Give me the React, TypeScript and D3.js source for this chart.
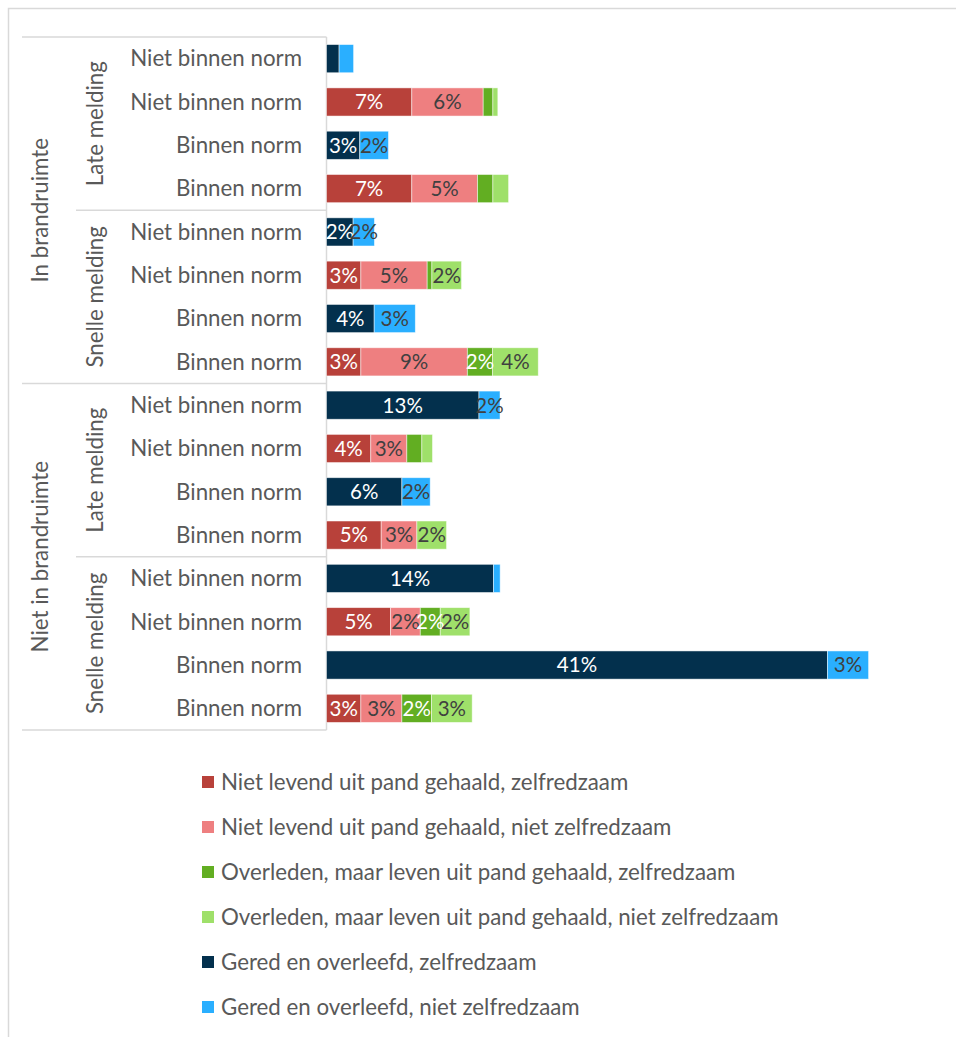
import React from "react";
import * as d3 from "d3";

// ---------- data ----------
const rowLabels = [
  "Niet binnen norm", "Niet binnen norm", "Binnen norm", "Binnen norm",
  "Niet binnen norm", "Niet binnen norm", "Binnen norm", "Binnen norm",
  "Niet binnen norm", "Niet binnen norm", "Binnen norm", "Binnen norm",
  "Niet binnen norm", "Niet binnen norm", "Binnen norm", "Binnen norm",
];
const meldingGroups = ["Late melding", "Snelle melding", "Late melding", "Snelle melding"];
const ruimteGroups = ["In brandruimte", "Niet in brandruimte"];

const seriesNames = [
  "Niet levend uit pand gehaald, zelfredzaam",
  "Niet levend uit pand gehaald, niet zelfredzaam",
  "Overleden, maar leven uit pand gehaald, zelfredzaam",
  "Overleden, maar leven uit pand gehaald, niet zelfredzaam",
  "Gered en overleefd, zelfredzaam",
  "Gered en overleefd, niet zelfredzaam",
];
const seriesColors = ["#B8413A", "#EE7F80", "#62AE22", "#9FE06A", "#03304D", "#2AAFFF"];
const labelColors = ["#ffffff", "#404040", "#ffffff", "#404040", "#ffffff", "#404040"];

const nietLevendZelf = [0, 7.05, 0, 7.05, 0, 2.84, 0, 2.84, 0, 3.66, 0, 4.52, 0, 5.3, 0, 2.84];
const nietLevendNietZelf = [0, 5.9, 0, 5.43, 0, 5.48, 0, 8.8, 0, 2.98, 0, 2.95, 0, 2.45, 0, 3.39];
const overledenZelf = [0, 0.8, 0, 1.27, 0, 0.39, 0, 2.09, 0, 1.24, 0, 0, 0, 1.65, 0, 2.45];
const overledenNietZelf = [0, 0.41, 0, 1.3, 0, 2.45, 0, 3.77, 0, 0.88, 0, 2.45, 0, 2.45, 0, 3.36];
const geredZelf = [1.04, 0, 2.75, 0, 2.2, 0, 3.94, 0, 12.6, 0, 6.23, 0, 13.8, 0, 41.4, 0];
const geredNietZelf = [1.2, 0, 2.37, 0, 1.76, 0, 3.4, 0, 1.74, 0, 2.34, 0, 0.55, 0, 3.4, 0];

const seriesValues = [nietLevendZelf, nietLevendNietZelf, overledenZelf, overledenNietZelf, geredZelf, geredNietZelf];

// ---------- layout ----------
const W = 956;
const H = 1037;
const axisX = 326.5;
const plotTop = 37;
const plotBottom = 730;
const FONT = "Lato, 'Open Sans', sans-serif";
const TEXT = "#595959";
const GRID = "#D9D9D9";
const FS = 22.3;

export default function App() {
  const x = d3.scaleLinear().domain([0, 45]).range([axisX, axisX + 544.5]);
  const idx = d3.range(rowLabels.length);
  const y = d3.scaleBand<number>().domain(idx).range([plotTop, plotBottom]).paddingInner(0.35).paddingOuter(0.175);
  const step = y.step();

  const table = idx.map((i) => {
    const o: any = { i };
    seriesValues.forEach((vals, s) => (o["s" + s] = vals[i]));
    return o;
  });
  const stack = d3.stack<any>().keys(seriesValues.map((_, s) => "s" + s))(table);

  const rowY = (i: number) => plotTop + step * i;

  return (
    <svg width={W} height={H} style={{ position: "absolute", left: 0, top: 0, background: "#fff" }} fontFamily={FONT}>
      {/* frame */}
      <rect x={8.5} y={8.5} width={W + 20} height={H + 20} fill="#fff" stroke={GRID} strokeWidth={1.5} />

      {/* category structure lines */}
      {[0, 4, 8, 12, 16].map((r) => {
        const yy = rowY(r);
        const x1 = r % 8 === 0 ? 22 : 76;
        return <line key={"h" + r} x1={x1} x2={axisX} y1={yy} y2={yy} stroke={GRID} strokeWidth={1.5} />;
      })}
      <line x1={axisX} x2={axisX} y1={plotTop} y2={plotBottom} stroke={GRID} strokeWidth={1.5} />

      {/* row labels */}
      {idx.map((i) => (
        <text key={"rl" + i} x={302} y={y(i)! + y.bandwidth() / 2} dy="0.35em" textAnchor="end" fontSize={FS} fill={TEXT}>
          {rowLabels[i]}
        </text>
      ))}

      {/* melding groups */}
      {meldingGroups.map((g, k) => {
        const cy = (rowY(k * 4) + rowY(k * 4 + 4)) / 2;
        return (
          <text key={"mg" + k} transform={`translate(95,${cy}) rotate(-90)`} dy="0.35em" textAnchor="middle" fontSize={FS} fill={TEXT}>
            {g}
          </text>
        );
      })}
      {ruimteGroups.map((g, k) => {
        const cy = (rowY(k * 8) + rowY(k * 8 + 8)) / 2;
        return (
          <text key={"rg" + k} transform={`translate(40,${cy}) rotate(-90)`} dy="0.35em" textAnchor="middle" fontSize={FS} fill={TEXT}>
            {g}
          </text>
        );
      })}

      {/* bars */}
      {stack.map((layer, s) => (
        <g key={"s" + s}>
          {layer.map((d, i) => {
            const w = x(d[1]) - x(d[0]);
            if (w <= 0) return null;
            return (
              <rect key={i} x={x(d[0])} y={y(i)!} width={w} height={y.bandwidth()} fill={seriesColors[s]} stroke="#ffffff" strokeOpacity={0.6} strokeWidth={0.8} />
            );
          })}
        </g>
      ))}

      {/* data labels */}
      {stack.map((layer, s) => (
        <g key={"l" + s}>
          {layer.map((d, i) => {
            const v = d[1] - d[0];
            if (v < 1.5) return null;
            return (
              <text key={i} x={(x(d[0]) + x(d[1])) / 2} y={y(i)! + y.bandwidth() / 2} dy="0.36em" textAnchor="middle" fontSize={20.5} fill={labelColors[s]}>
                {Math.round(v) + "%"}
              </text>
            );
          })}
        </g>
      ))}

      {/* legend */}
      {seriesNames.map((n, s) => {
        const cy = 782 + s * 45;
        return (
          <g key={"lg" + s}>
            <rect x={202} y={cy - 6} width={12} height={12} fill={seriesColors[s]} />
            <text x={221} y={cy} dy="0.35em" fontSize={FS} fill={TEXT}>
              {n}
            </text>
          </g>
        );
      })}
    </svg>
  );
}
